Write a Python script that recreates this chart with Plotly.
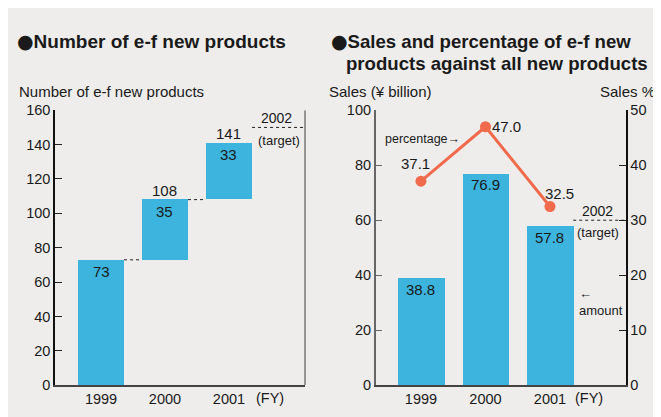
import plotly.graph_objects as go

# ---------------- data ----------------
years = ["1999", "2000", "2001"]
product_totals = [73, 108, 141]
product_increments = [73, 35, 33]
product_target = 150
sales_values = [38.8, 76.9, 57.8]
sales_pct = [37.1, 47.0, 32.5]
pct_target = 30
left_yticks = [0, 20, 40, 60, 80, 100, 120, 140, 160]
right_yticks = [0, 20, 40, 60, 80, 100]
pct_ticks = [0, 10, 20, 30, 40, 50]

W, H = 661, 417
OFF = 8  # page body margin
BAR = "#3cb4de"
LINE = "#f26a4c"
BG = "#eeedeb"
FONT = "Liberation Sans, Arial, Helvetica, sans-serif"
TXT = "#1a1a1a"

def px_x(p):
    return (p - OFF) / W

def px_y(p):
    return 1 - (p - OFF) / H

xpos = [0, 1, 2]
bw = 0.72
bases = [t - i for t, i in zip(product_totals, product_increments)]

fig = go.Figure()

fig.add_trace(go.Bar(x=xpos, y=product_increments, base=bases, width=bw,
                     marker=dict(color=BAR, line=dict(width=0)),
                     xaxis="x", yaxis="y", showlegend=False, hoverinfo="skip"))
for i in range(len(xpos) - 1):
    fig.add_trace(go.Scatter(x=[xpos[i] + bw / 2, xpos[i + 1] - bw / 2],
                             y=[product_totals[i]] * 2, mode="lines",
                             line=dict(color="#222", width=1, dash="3px,3px"),
                             xaxis="x", yaxis="y", showlegend=False, hoverinfo="skip"))
fig.add_trace(go.Scatter(x=[xpos[-1] + bw / 2, 3.19], y=[product_target] * 2, mode="lines",
                         line=dict(color="#222", width=1, dash="3px,3px"),
                         xaxis="x", yaxis="y", showlegend=False, hoverinfo="skip"))

fig.add_trace(go.Bar(x=xpos, y=sales_values, width=bw,
                     marker=dict(color=BAR, line=dict(width=0)),
                     xaxis="x2", yaxis="y2", showlegend=False, hoverinfo="skip"))
fig.add_trace(go.Scatter(x=xpos, y=sales_pct, mode="lines+markers",
                         line=dict(color=LINE, width=3),
                         marker=dict(color=LINE, size=11),
                         xaxis="x2", yaxis="y3", showlegend=False, hoverinfo="skip"))
fig.add_trace(go.Scatter(x=[xpos[-1] + bw / 2, 3.174], y=[pct_target] * 2, mode="lines",
                         line=dict(color="#222", width=1, dash="3px,3px"),
                         xaxis="x2", yaxis="y3", showlegend=False, hoverinfo="skip"))

ydom = [px_y(392), px_y(106)]
tickfont = dict(family=FONT, size=14.5, color=TXT)

fig.update_layout(
    width=W, height=H,
    margin=dict(l=0, r=0, t=0, b=0),
    paper_bgcolor=BG,
    plot_bgcolor="rgba(0,0,0,0)",
    font=dict(family=FONT, color=TXT),
    bargap=0,
    xaxis=dict(domain=[px_x(55), px_x(305)], range=[-0.719, 3.188],
               tickvals=xpos, ticktext=years, ticks="", showgrid=False,
               zeroline=False, showline=True, linecolor="#444", linewidth=1.5,
               tickfont=tickfont),
    yaxis=dict(domain=ydom, range=[0, 160], tickvals=left_yticks, ticks="inside",
               ticklen=7, tickcolor="#222", showgrid=False, zeroline=False,
               showline=True, linecolor="#111", linewidth=1.5, tickfont=tickfont,
               anchor="x"),
    xaxis2=dict(domain=[px_x(375.7), px_x(625.7)], range=[-0.702, 3.174],
                tickvals=xpos, ticktext=years, ticks="", showgrid=False,
                zeroline=False, showline=True, linecolor="#444", linewidth=1.5,
                tickfont=tickfont, anchor="y2"),
    yaxis2=dict(domain=ydom, range=[0, 100], tickvals=right_yticks, ticks="inside",
                ticklen=7, tickcolor="#666", showgrid=False, zeroline=False,
                showline=True, linecolor="#666", linewidth=1.5, tickfont=tickfont,
                anchor="x2"),
    yaxis3=dict(overlaying="y2", side="right", range=[0, 50], tickvals=pct_ticks,
                ticks="inside", ticklen=7, tickcolor="#222", showgrid=False,
                zeroline=False, showline=True, linecolor="#111", linewidth=1.5,
                tickfont=tickfont, anchor="x2"),
)

shapes = [
    dict(type="line", xref="x domain", yref="y", x0=1, x1=1, y0=0, y1=160,
         line=dict(color="#777", width=1.5)),
]
fig.update_layout(shapes=shapes)

ann = []
def A(text, x, y, xref="paper", yref="paper", size=14, bold=False, xanchor="center",
      yanchor="middle", xshift=0, yshift=0, color=TXT, align="center"):
    t = f"<b>{text}</b>" if bold else text
    ann.append(dict(text=t, x=x, y=y, xref=xref, yref=yref, showarrow=False,
                    font=dict(family=FONT, size=size, color=color), align=align,
                    xanchor=xanchor, yanchor=yanchor, xshift=xshift, yshift=yshift))

BUL = "<span style=\"font-family:'DejaVu Sans';font-size:19px\">●</span>"
A(BUL + "Number of e-f new products", px_x(15), px_y(34), size=19, bold=True, xanchor="left")
A(BUL + "Sales and percentage of e-f new", px_x(329), px_y(34), size=18.6, bold=True, xanchor="left")
A("products against all new products", px_x(344), px_y(57), size=18.6, bold=True, xanchor="left")
A("Number of e-f new products", px_x(17), px_y(87), size=15, xanchor="left")
A("Sales (¥ billion)", px_x(327), px_y(87), size=15, xanchor="left")
A("Sales %", px_x(657), px_y(87), size=15, xanchor="right")
A("(FY)", px_x(270), px_y(405), size=14.5)
A("(FY)", px_x(589), px_y(405), size=14.5)

for i in range(len(xpos)):
    A(str(product_increments[i]), xpos[i], product_totals[i], "x", "y", size=15,
      yshift=-12)
    if i > 0:
        A(str(product_totals[i]), xpos[i], product_totals[i], "x", "y", size=15,
          yshift=9)
A("2002", 2.75, product_target, "x", "y", size=14, yshift=9)
A("(target)", 2.78, product_target, "x", "y", size=13, yshift=-13)

for i in range(len(xpos)):
    A(f"{sales_values[i]:.1f}", xpos[i], sales_values[i], "x2", "y2", size=15, yshift=-11)
pct_off = [(-0.08, 18), (0.33, 0), (0.155, 13)]
for i in range(len(xpos)):
    dx, dy = pct_off[i]
    A(f"{sales_pct[i]:.1f}", xpos[i] + dx, sales_pct[i], "x2", "y3", size=15, yshift=dy)
A("percentage→", 0.03, sales_pct[0], "x2", "y3", size=12.5, yshift=42)
A("2002", 2.74, pct_target, "x2", "y3", size=14, yshift=9)
A("(target)", 2.74, pct_target, "x2", "y3", size=13, yshift=-12)
A("←<br>amount", px_x(577), px_y(305), size=13, xanchor="left", align="left")

fig.update_layout(annotations=ann)
fig.write_html("out.html")
